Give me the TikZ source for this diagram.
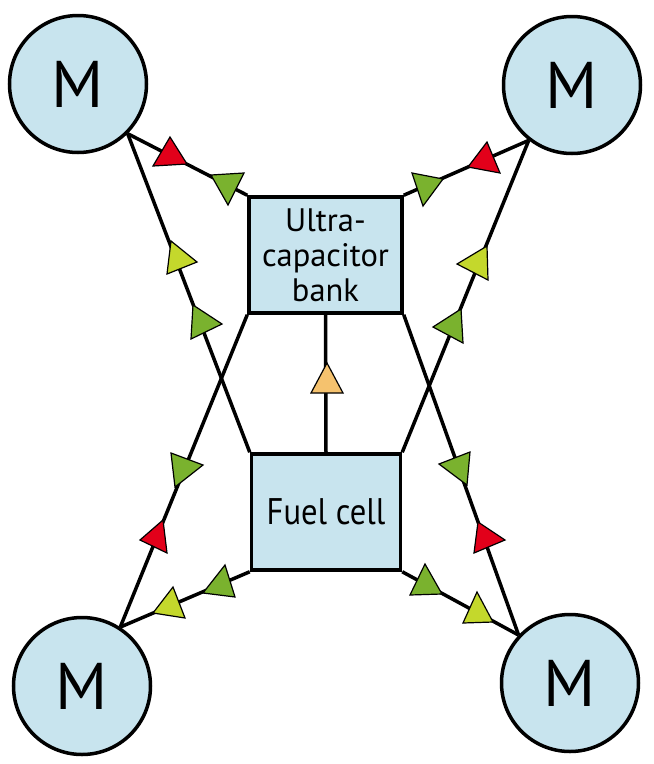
\documentclass[tikz,border=0pt]{standalone}
\usepackage{fontspec}
\setmainfont{PT Sans}
\definecolor{lblue}{RGB}{200,228,238}
\definecolor{tred}{RGB}{226,0,26}
\definecolor{tgreen}{RGB}{122,178,46}
\definecolor{tyellow}{RGB}{196,216,44}
\definecolor{torange}{RGB}{245,194,110}
\begin{document}
\begin{tikzpicture}[x=1pt,y=-1pt,
  motor/.style={circle,draw,line width=3.5pt,fill=lblue,minimum size=137pt,inner sep=0pt,font=\fontsize{66}{66}\selectfont},
  box/.style={rectangle,draw,line width=3.5pt,fill=lblue,minimum height=116pt,inner sep=0pt,align=center},
  wire/.style={line width=3.5pt},
  tri/.style={draw=black,line width=1.2pt,line join=miter}]
\useasboundingbox (0,0) rectangle (654,764);
% nodes
\node[motor] (m1) at (78,84) {M};
\node[motor] (m2) at (572,85) {M};
\node[motor] (m3) at (82,686) {M};
\node[motor] (m4) at (570,683) {M};
\node[box,minimum width=153pt,font=\fontsize{32.5}{35}\selectfont] (u) at (325.5,255) {Ultra-\\capacitor\\bank};
\node[box,minimum width=149pt,font=\fontsize{37}{40}\selectfont] (f) at (326,512) {\scalebox{0.88}[1]{Fuel cell}};
% wires
\draw[wire] (m1.-45) -- (u.north west);
\draw[wire] (m1.-45) -- (f.north west);
\draw[wire] (m2.-128) -- (u.north east);
\draw[wire] (m2.-128) -- (f.north east);
\draw[wire] (m3.57) -- (u.south west);
\draw[wire] (m3.57) -- (f.south west);
\draw[wire] (m4.137) -- (u.south east);
\draw[wire] (m4.137) -- (f.south east);
\draw[wire] (u.south) -- (f.north);
% triangles: top left
\filldraw[tri,fill=tred] (170,137) -- (153,166) -- (187,164) -- cycle;
\filldraw[tri,fill=tgreen] (211,175) -- (244,173) -- (228,205) -- cycle;
\filldraw[tri,fill=tyellow] (171,241) -- (197,262) -- (167,274) -- cycle;
\filldraw[tri,fill=tgreen] (193,305) -- (222,324) -- (191,339) -- cycle;
% top right
\filldraw[tri,fill=tred] (487,142) -- (468,167) -- (500,173) -- cycle;
\filldraw[tri,fill=tgreen] (412,173) -- (443,179) -- (423,206) -- cycle;
\filldraw[tri,fill=tyellow] (487,246) -- (488,280) -- (457,264) -- cycle;
\filldraw[tri,fill=tgreen] (461,309) -- (463,343) -- (433,327) -- cycle;
% bottom left
\filldraw[tri,fill=tgreen] (171,453) -- (203,465) -- (175,487) -- cycle;
\filldraw[tri,fill=tred] (163,520) -- (167,553) -- (140,540) -- cycle;
\filldraw[tri,fill=tgreen] (225,565) -- (235,597) -- (203,593) -- cycle;
\filldraw[tri,fill=tyellow] (173,587) -- (185,618) -- (153,613) -- cycle;
% bottom right
\filldraw[tri,fill=tgreen] (470,452) -- (467,485) -- (439,464) -- cycle;
\filldraw[tri,fill=tred] (478,522) -- (505,540) -- (474,553) -- cycle;
\filldraw[tri,fill=tgreen] (425,564) -- (442,594) -- (410,595) -- cycle;
\filldraw[tri,fill=tyellow] (477,592) -- (493,622) -- (463,623) -- cycle;
% centre
\filldraw[tri,fill=torange] (327,363) -- (343,393) -- (311,393) -- cycle;
\end{tikzpicture}
\end{document}
